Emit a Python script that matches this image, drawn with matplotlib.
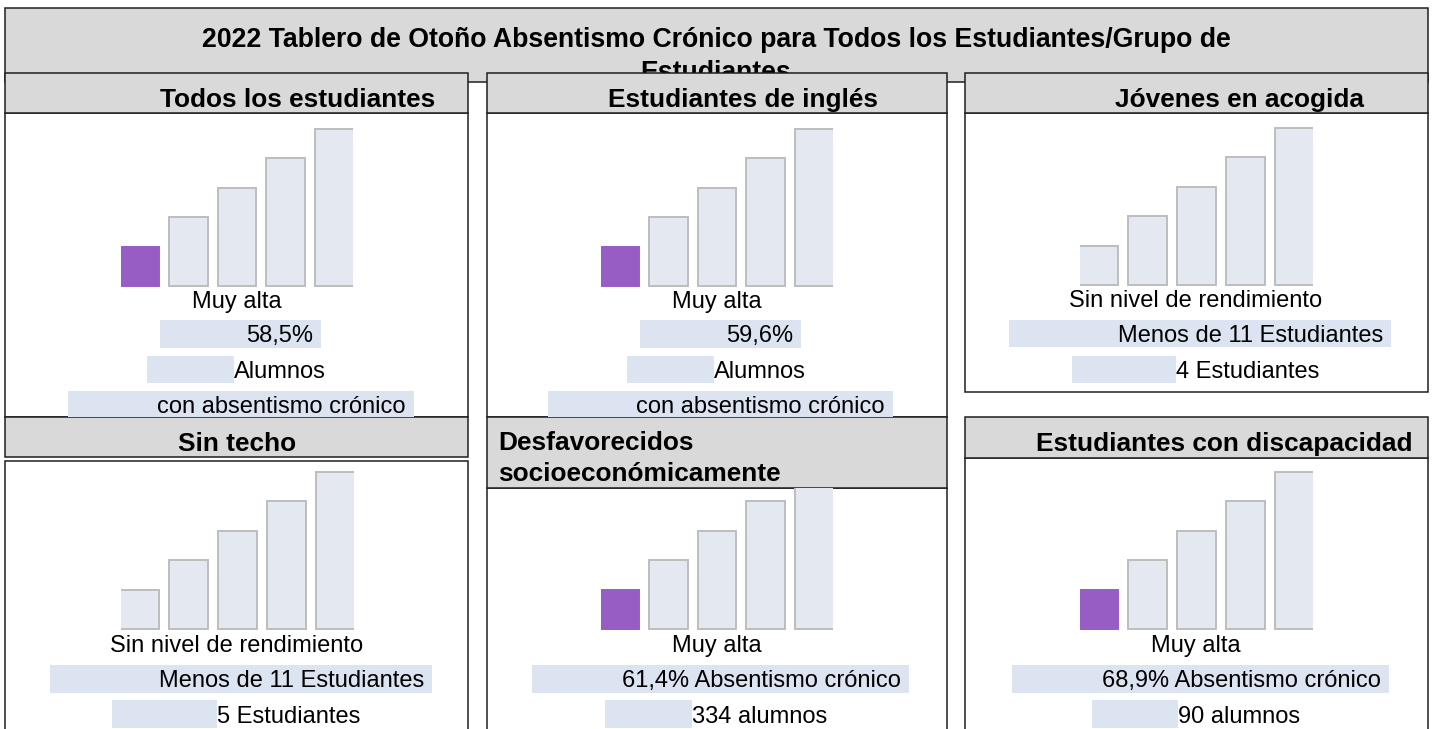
import matplotlib
matplotlib.use("Agg")
import matplotlib.pyplot as plt
from matplotlib.patches import Rectangle

plt.rcParams["font.family"] = ["Liberation Sans", "DejaVu Sans"]

# ---------------- data ----------------
title_lines = ["2022 Tablero de Otoño Absentismo Crónico para Todos los Estudiantes/Grupo de",
               "Estudiantes"]
panel_titles = ["Todos los estudiantes", "Estudiantes de inglés", "Jóvenes en acogida",
                "Sin techo", "Desfavorecidos\nsocioeconómicamente", "Estudiantes con discapacidad"]
bar_levels = [1.0, 1.75, 2.5, 3.25, 4.0]          # staircase status bars
highlight_index = [0, 0, None, None, 0, 0]        # which bar is coloured (None = no level)
status_labels = ["Muy alta", "Muy alta", "Sin nivel de rendimiento",
                 "Sin nivel de rendimiento", "Muy alta", "Muy alta"]
rate_lines = ["58,5%", "59,6%", "Menos de 11 Estudiantes", "Menos de 11 Estudiantes",
              "61,4% Absentismo crónico", "68,9% Absentismo crónico"]
count_lines = ["Alumnos", "Alumnos", "4 Estudiantes", "5 Estudiantes",
               "334 alumnos", "90 alumnos"]
extra_lines = ["con absentismo crónico", "con absentismo crónico", None, None, None, None]

# ---------------- layout (pixels) & style ----------------
W, H = 1433, 729
GRAY = "#d9d9d9"
EDGE = "#1f1f1f"
BOX = "#dbe4f0"
BAR_FILL = "#e4e9f1"
BAR_EDGE = "#bdbdbd"
PURPLE = "#985dc4"
FS_BODY = 17
FS_HEAD = 18.9
FS_TITLE = 19.2

# panel frames: x0, x1, top, header_bottom, body_top, bottom
frames = [
    (5, 468, 73, 113, 113, 417),
    (487, 947, 73, 113, 113, 417),
    (965, 1428, 73, 113, 113, 392),
    (5, 468, 417, 457, 461, 760),
    (487, 947, 417, 488, 488, 760),
    (965, 1428, 417, 458, 458, 760),
]
# header text: x, baseline, ha
head_pos = [(298, 107, "center"), (743, 107, "center"), (1240, 107, "center"),
            (237, 451, "center"), (498, 450, "left"), (1224, 451, "center")]
# bar axes: x_left, x_right, base_y, clip_top
bar_pos = [(121, 353, 286, None), (601, 833, 286, None), (1080, 1313, 285, None),
           (121, 354, 629, None), (601, 833, 629, 488), (1080, 1313, 629, None)]
# status label: x center, baseline
status_pos = [(237, 308), (717, 308), (1196, 307), (237, 652), (717, 652), (1196, 652)]
# row 1 box: x0, x1, y0, y1, baseline (text right aligned)
row1 = [(160, 321, 320, 348, 342), (640, 801, 320, 348, 342), (1009, 1391, 320, 347, 342),
        (50, 432, 665, 693, 687), (532, 909, 665, 693, 687), (1012, 1389, 665, 693, 687)]
# row 2 box: x0, x1, y0, y1, baseline (text starts at box end)
row2 = [(147, 234, 356, 383, 378), (627, 714, 356, 383, 378), (1072, 1176, 356, 383, 378),
        (112, 217, 700, 728, 723), (605, 692, 700, 728, 723), (1092, 1178, 700, 728, 723)]
# row 3 box
row3 = [(68, 414, 391, 417, 413), (548, 893, 391, 417, 413), None, None, None, None]

fig = plt.figure(figsize=(W / 100, H / 100), dpi=100)
ax = fig.add_axes([0, 0, 1, 1])
ax.set_xlim(0, W)
ax.set_ylim(H, 0)
ax.axis("off")


def rect(x0, y0, x1, y1, fc, ec="none", lw=0.0, z=1):
    ax.add_patch(Rectangle((x0, y0), x1 - x0, y1 - y0, facecolor=fc,
                           edgecolor=ec, linewidth=lw, zorder=z))


# title box
rect(5, 8, 1428, 82, GRAY, EDGE, 1.1, z=1)
ax.text(716, 47, title_lines[0], ha="center", va="baseline", fontsize=FS_TITLE,
        fontweight="bold", zorder=2)
ax.text(716, 80, title_lines[1], ha="center", va="baseline", fontsize=FS_TITLE,
        fontweight="bold", zorder=2)

for i in range(6):
    x0, x1, top, hb, bt, bot = frames[i]
    # body
    rect(x0, bt, x1, bot, "white", EDGE, 1.1, z=3)
    # header
    rect(x0, top, x1, hb, GRAY, EDGE, 1.1, z=4)
    hx, hy, ha = head_pos[i]
    lines = panel_titles[i].split("\n")
    for k, ln in enumerate(lines):
        ax.text(hx, hy + k * 31, ln, ha=ha, va="baseline", fontsize=FS_HEAD,
                fontweight="bold", zorder=6)

    # text rows
    sx, sy = status_pos[i]
    ax.text(sx, sy, status_labels[i], ha="center", va="baseline", fontsize=FS_BODY, zorder=6)
    b = row1[i]
    rect(b[0], b[2], b[1], b[3], BOX, z=5)
    ax.text(b[1] - 8, b[4], rate_lines[i], ha="right", va="baseline", fontsize=FS_BODY, zorder=6)
    b = row2[i]
    rect(b[0], b[2], b[1], b[3], BOX, z=5)
    ax.text(b[1], b[4], count_lines[i], ha="left", va="baseline", fontsize=FS_BODY, zorder=6)
    if extra_lines[i] is not None:
        b = row3[i]
        rect(b[0], b[2], b[1], b[3], BOX, z=5)
        ax.text(b[1] - 8, b[4], extra_lines[i], ha="right", va="baseline",
                fontsize=FS_BODY, zorder=6)

# bars
UNIT = 39.25
for i in range(6):
    xl, xr, base, clip = bar_pos[i]
    top_units = 4.06
    ytop = base - top_units * UNIT
    if clip is not None and clip > ytop:
        ytop = clip
        top_units = (base - clip) / UNIT
    ybot = base + 0.04 * UNIT
    bax = fig.add_axes([xl / W, 1 - ybot / H, (xr - xl) / W, (ybot - ytop) / H])
    bax.set_xlim(-0.38, 4.38)
    bax.set_ylim(-0.04, top_units)
    bax.axis("off")
    bax.patch.set_visible(False)
    colors = [BAR_FILL] * len(bar_levels)
    edges = [BAR_EDGE] * len(bar_levels)
    if highlight_index[i] is not None:
        colors[highlight_index[i]] = PURPLE
        edges[highlight_index[i]] = PURPLE
    bax.bar(range(len(bar_levels)), bar_levels, width=0.8, color=colors,
            edgecolor=edges, linewidth=1.4)

fig.savefig("out.png", dpi=100)
